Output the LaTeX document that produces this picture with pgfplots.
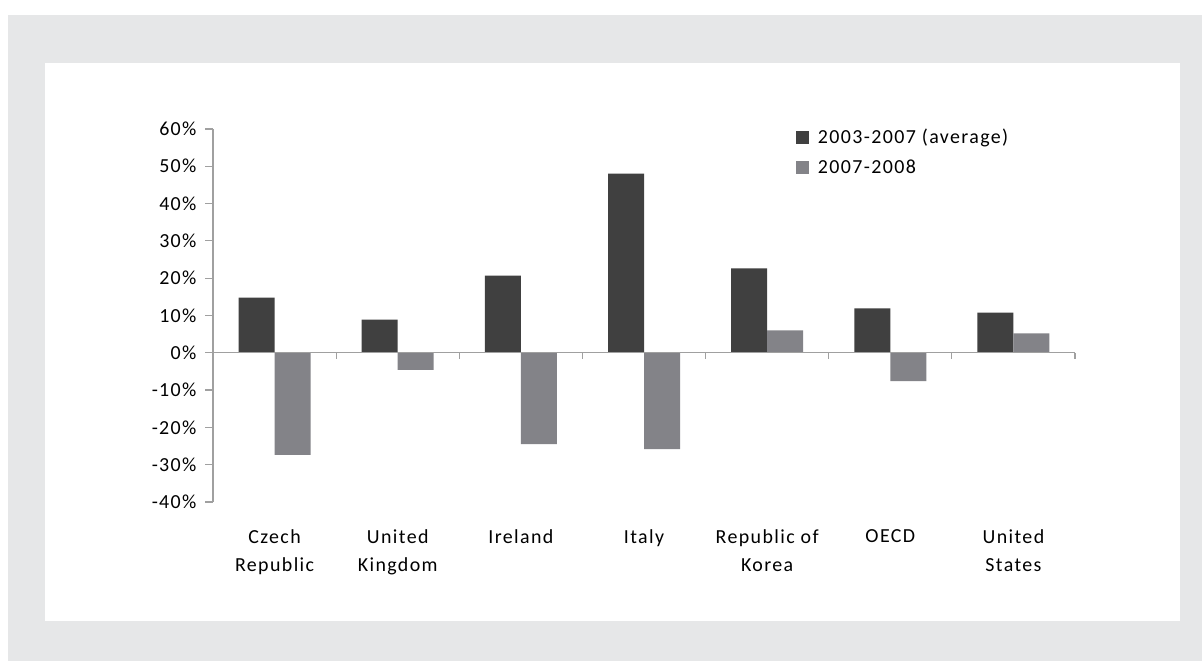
\documentclass[border=0pt]{standalone}
\usepackage{fontspec}
\setmainfont{Carlito}[LetterSpace=7]
\usepackage{pgfplots}
\pgfplotsset{compat=1.18}
\definecolor{bgGray}{HTML}{E6E7E8}
\definecolor{darkBar}{HTML}{404040}
\definecolor{lightBar}{HTML}{838388}
\definecolor{axGray}{HTML}{A0A0A0}
\begin{document}
\begin{tikzpicture}[x=1bp,y=1bp]
\fill[white] (0,0) rectangle (1202,661);
\fill[bgGray] (8,0) rectangle (1202,646);
\fill[white] (45,40) rectangle (1180,598);
\useasboundingbox (0,0) rectangle (1202,661);
\begin{axis}[
  at={(213bp,159bp)}, anchor=south west,
  scale only axis, width=862bp, height=373bp,
  xmin=-0.5, xmax=6.5, ymin=-40, ymax=60,
  axis y line*=left, axis x line*=bottom,
  x axis line style={draw=none},
  y axis line style={axGray, line width=1.2bp, -},
  ytick={-40,-30,...,60},
  yticklabels={-40\%,-30\%,-20\%,-10\%,0\%,10\%,20\%,30\%,40\%,50\%,60\%},
  y tick style={axGray, line width=1.2bp},
  tick align=outside, major tick length=8bp,
  x tick style={draw=none},
  xtick={0,...,6},
  xticklabels={Czech\\Republic, United\\Kingdom, Ireland, Italy, Republic of\\Korea, OECD, United\\States},
  xticklabel style={align=center, font=\fontsize{20}{28}\selectfont, yshift=-16bp},
  yticklabel style={font=\fontsize{20}{24}\selectfont, xshift=-5bp},
  ybar=0pt, bar width=36bp,
  clip=false,
  legend style={at={(0.676,1.005)}, anchor=north west, draw=none, fill=none,
    font=\fontsize{20}{24}\selectfont, row sep=11bp, column sep=7bp, inner sep=0pt,
    nodes={inner sep=2bp}},
  legend cell align=left,
  legend image code/.code={\fill[#1,draw=none] (0bp,-6.5bp) rectangle (13bp,6.5bp);},
]
\addplot[fill=darkBar, draw=none] coordinates {(0,14.8) (1,8.9) (2,20.7) (3,48.0) (4,22.6) (5,11.9) (6,10.8)};
\addplot[fill=lightBar, draw=none] coordinates {(0,-27.4) (1,-4.6) (2,-24.5) (3,-25.8) (4,6.0) (5,-7.6) (6,5.2)};
\legend{2003-2007 (average), 2007-2008}
\draw[axGray, line width=1.2bp] (axis cs:-0.5,0) -- (axis cs:6.5,0);
\pgfplotsinvokeforeach{-0.5,0.5,1.5,2.5,3.5,4.5,5.5,6.5}{
  \draw[axGray, line width=1.2bp] (axis cs:#1,0) -- ++(0bp,-6bp);
}
\end{axis}
\end{tikzpicture}
\end{document}
